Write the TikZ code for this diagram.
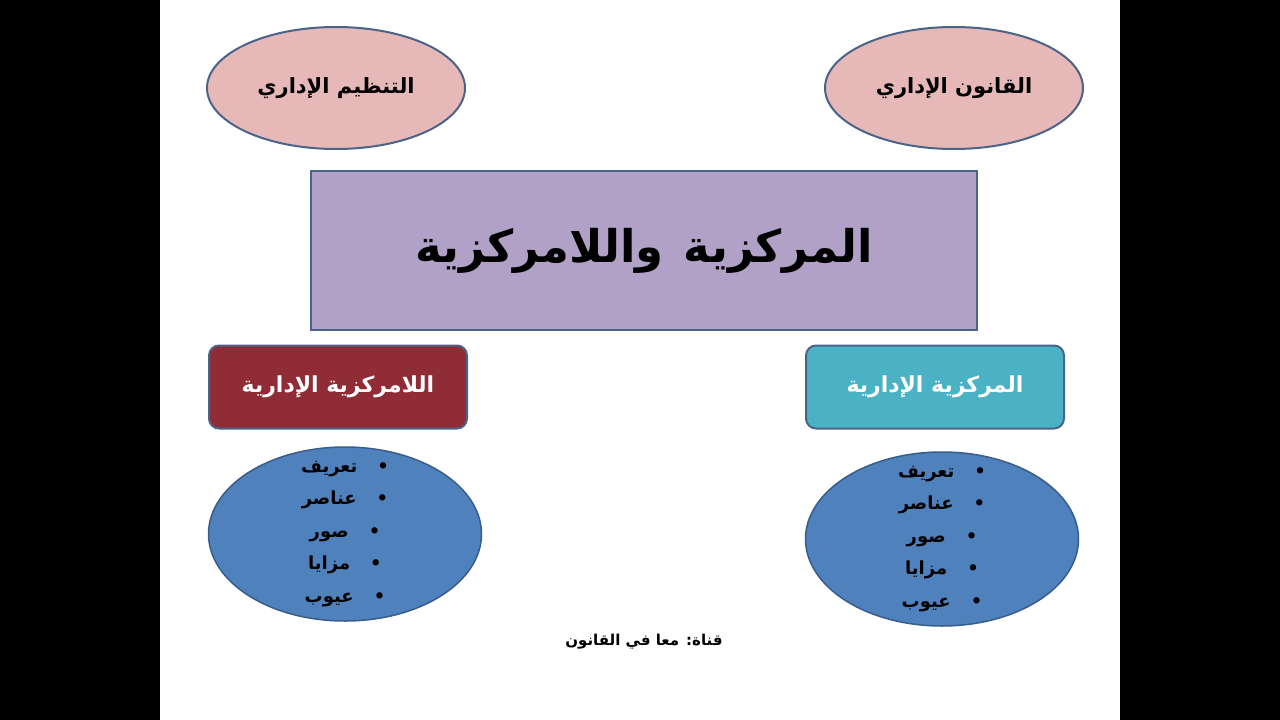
\documentclass[tikz,border=0pt]{standalone}
\usepackage{fontspec}
\usepackage{tikz}
\usepackage{xcolor}
\usetikzlibrary{shapes.geometric}
\TeXXeTstate=1
\newfontfamily\arabicfont[Script=Arabic]{DejaVu Sans}
\definecolor{outline}{HTML}{4A6388}
\definecolor{pinkfill}{HTML}{E6B9B8}
\definecolor{lilac}{HTML}{B2A1C7}
\definecolor{wine}{HTML}{8F2C36}
\definecolor{teal}{HTML}{4BB2C5}
\definecolor{steel}{HTML}{4F81BD}
\definecolor{steeldark}{HTML}{385D8A}

\begin{document}
\begin{tikzpicture}[
  x=1pt, y=-1pt,
  every node/.style = {align=center, font=\arabicfont\bfseries},
  topic/.style = {draw=outline, line width=2pt, ellipse, fill=pinkfill,
    minimum width=258pt, minimum height=122pt, inner sep=0pt},
  topicfont/.style = {font=\arabicfont\bfseries\fontsize{21}{26}\selectfont},
  title/.style = {draw=outline, line width=2pt, rectangle, fill=lilac,
    minimum width=666pt, minimum height=159pt,
    font=\arabicfont\bfseries\fontsize{45}{55}\selectfont},
  branch/.style = {draw=outline, line width=2pt, rectangle, rounded corners=10pt,
    minimum width=258pt, minimum height=83pt, text=white,
    font=\arabicfont\bfseries\fontsize{22}{26}\selectfont},
  points/.style = {draw=steeldark, line width=1.5pt, ellipse, fill=steel,
    minimum width=273pt, minimum height=174pt, inner sep=0pt},
  listfont/.style = {font=\arabicfont\bfseries\fontsize{18}{32.5}\selectfont}
]

\useasboundingbox (0,0) rectangle (1280,720);
\fill[white] (0,0) rectangle (1280,720);
\fill[black] (0,0) rectangle (160,720); % side bars
\fill[black] (1120,0) rectangle (1280,720);

\node[topic, label={[topicfont]center:\beginR التنظيم الإداري\endR}] (tanzim) at (336,88) {};
\node[topic, label={[topicfont]center:\beginR القانون الإداري\endR}] (qanun) at (954,88) {};

\node[title] (main) at (644,250.5) {\beginR المركزية\hspace{20pt}واللامركزية\endR};

\node[branch, fill=wine] (lamarkaz) at (338,387) {\beginR اللامركزية الإدارية\endR};
\node[branch, fill=teal] (markaz) at (935,387) {\beginR المركزية الإدارية\endR};

\node[points, label={[listfont]center:{%
  \beginR •\hspace{20pt}تعريف\endR\\
  \beginR •\hspace{20pt}عناصر\endR\\
  \beginR •\hspace{20pt}صور\endR\\
  \beginR •\hspace{20pt}مزايا\endR\\
  \beginR •\hspace{20pt}عيوب\endR}}] (listL) at (345,534) {};
\node[points, label={[listfont]center:{%
  \beginR •\hspace{20pt}تعريف\endR\\
  \beginR •\hspace{20pt}عناصر\endR\\
  \beginR •\hspace{20pt}صور\endR\\
  \beginR •\hspace{20pt}مزايا\endR\\
  \beginR •\hspace{20pt}عيوب\endR}}] (listR) at (942,539) {};

\node[font=\arabicfont\bfseries\fontsize{15}{18}\selectfont] (channel) at (644,642)
  {\beginR قناة: معا في القانون\endR};

\end{tikzpicture}
\end{document}
